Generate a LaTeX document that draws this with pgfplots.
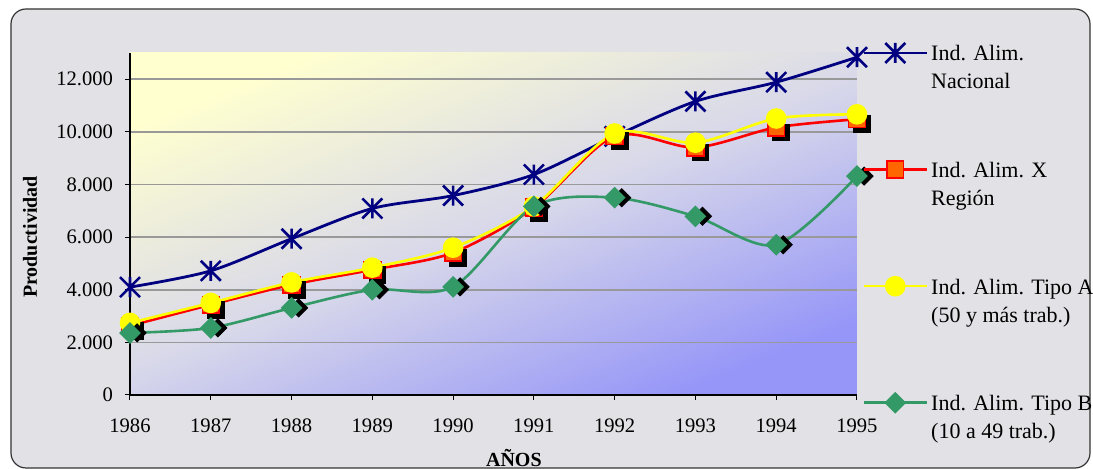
\documentclass[border=0pt]{standalone}
\usepackage{pgfplots}
\usepackage{pgfplotstable}
\usepackage{fontspec}
\pgfplotsset{compat=1.18}
\setmainfont{Liberation Serif}

\definecolor{nacional}{RGB}{0,0,128}
\definecolor{region}{RGB}{255,0,0}
\definecolor{regionfill}{RGB}{255,102,0}
\definecolor{tipoa}{RGB}{255,255,0}
\definecolor{tipob}{RGB}{51,153,102}
\definecolor{marble}{RGB}{226,226,230}
\definecolor{bgtop}{RGB}{255,255,208}
\definecolor{bgmid}{RGB}{216,216,234}
\definecolor{bgbot}{RGB}{150,150,248}

% Excel style star: X plus vertical bar
\pgfdeclareplotmark{xstar}{%
  \pgfpathmoveto{\pgfqpoint{-\pgfplotmarksize}{-\pgfplotmarksize}}%
  \pgfpathlineto{\pgfqpoint{\pgfplotmarksize}{\pgfplotmarksize}}%
  \pgfpathmoveto{\pgfqpoint{-\pgfplotmarksize}{\pgfplotmarksize}}%
  \pgfpathlineto{\pgfqpoint{\pgfplotmarksize}{-\pgfplotmarksize}}%
  \pgfpathmoveto{\pgfqpoint{0pt}{-\pgfplotmarksize}}%
  \pgfpathlineto{\pgfqpoint{0pt}{\pgfplotmarksize}}%
  \pgfusepathqstroke}

\pgfplotstableread{
year  nac   reg   tipoa tipob
1986  4100  2630  2740  2360
1987  4720  3430  3500  2550
1988  5940  4190  4280  3310
1989  7090  4760  4840  4000
1990  7580  5410  5600  4110
1991  8380  7120  7170  7170
1992  9830  9840  9940  7500
1993  11160 9410  9590  6790
1994  11890 10170 10510 5710
1995  12840 10480 10670 8320
}\datos

\begin{document}
\begin{tikzpicture}
\path[use as bounding box] (-65pt,-37pt) rectangle (481.5pt,197.5pt);
\filldraw[fill=marble, draw=black!80, line width=0.6pt, rounded corners=7.5pt]
  (-59.5pt,-36.5pt) rectangle (480pt,193pt);
\begin{axis}[
    at={(0,0)}, anchor=south west,
    scale only axis,
    width=363.5pt, height=171pt,
    xmin=1986, xmax=1995,
    ymin=0, ymax=13000,
    xtick={1986,...,1995},
    ytick={0,2000,...,12000},
    scaled ticks=false,
    axis lines=left,
    axis line style={-, black, line width=0.6pt},
    tick align=outside,
    major tick length=2.5pt,
    tick style={black, line width=0.5pt},
    ymajorgrids,
    grid style={gray!80, line width=0.8pt},
    axis background/.style={shade, top color=bgtop, bottom color=bgbot,
      middle color=bgmid, shading angle=22},
    /pgf/number format/assume math mode=true,
    tick label style={font=\fontsize{10.3}{12}\selectfont},
    x tick label style={/pgf/number format/1000 sep={}, yshift=-6pt},
    y tick label style={/pgf/number format/1000 sep={.}, xshift=-2.5pt},
    xlabel={\textbf{AÑOS}},
    ylabel={\textbf{Productividad}},
    label style={font=\fontsize{10.3}{12}\selectfont},
    every axis x label/.style={at={(rel axis cs:0.528,0)}, yshift=-31.5pt, anchor=center},
    every axis y label/.style={at={(rel axis cs:0,0.462)}, xshift=-50pt, rotate=90, anchor=center},
    clip=false,
    legend style={at={(rel axis cs:1,1)}, anchor=north west, xshift=2.5pt, yshift=6pt,
      draw=none, fill=none, inner sep=0pt, row sep=47pt, column sep=1.5pt,
      nodes={inner sep=0pt},
      font=\fontsize{11}{14}\selectfont, cells={anchor=base west}},
    legend image code/.code={%
      \draw[mark repeat=2, mark phase=2, #1]
        plot coordinates {(0pt,4pt) (15.75pt,4pt) (31.5pt,4pt)};},
]
% shadows and series, in Excel drawing order
\addplot[nacional, line width=1.4pt, smooth, mark=xstar, mark size=5pt,
  mark options={line width=1.3pt}] table[x=year, y=nac] {\datos};
\addlegendentry{\begin{tabular}[t]{@{}l@{}}Ind. Alim.\\Nacional\end{tabular}}

\addplot[forget plot, only marks, mark=square*, mark size=4.2pt, black,
  mark options={xshift=2.5pt, yshift=-2.5pt}] table[x=year, y=reg] {\datos};
\addplot[region, line width=1.3pt, smooth, mark=square*, mark size=4.2pt,
  mark options={fill=regionfill, draw=region, line width=0.8pt}] table[x=year, y=reg] {\datos};
\addlegendentry{\begin{tabular}[t]{@{}l@{}}Ind. Alim. X\\Región\end{tabular}}

\addplot[tipoa, line width=1.3pt, smooth, mark=*, mark size=4.5pt,
  mark options={fill=tipoa, draw=tipoa}] table[x=year, y=tipoa] {\datos};
\addlegendentry{\begin{tabular}[t]{@{}l@{}}Ind. Alim. Tipo A\\(50 y más trab.)\end{tabular}}

\addplot[forget plot, only marks, mark=square*, mark size=3.2pt, black,
  mark options={rotate=45, xshift=2.5pt, yshift=-2.5pt}] table[x=year, y=tipob] {\datos};
\addplot[tipob, line width=1.3pt, smooth, mark=square*, mark size=3.2pt,
  mark options={rotate=45, fill=tipob, draw=tipob}] table[x=year, y=tipob] {\datos};
\addlegendentry{\begin{tabular}[t]{@{}l@{}}Ind. Alim. Tipo B\\(10 a 49 trab.)\end{tabular}}
\end{axis}
\end{tikzpicture}
\end{document}
